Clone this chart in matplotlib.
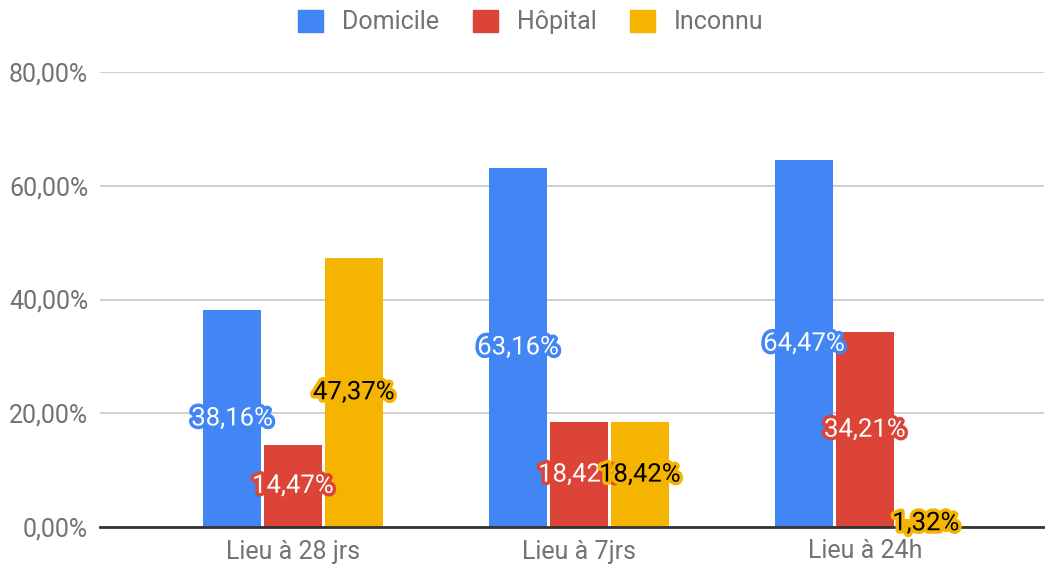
import matplotlib.pyplot as plt
import matplotlib.patheffects as pe
from matplotlib.patches import Patch
import numpy as np

plt.rcParams['font.family'] = ['Roboto', 'DejaVu Sans']

categories = ['Lieu à 28 jrs', 'Lieu à 7jrs', 'Lieu à 24h']
series = ['Domicile', 'Hôpital', 'Inconnu']
domicile = [38.16, 63.16, 64.47]
hopital = [14.47, 18.42, 34.21]
inconnu = [47.37, 18.42, 1.32]
yticks = [0, 20, 40, 60, 80]

colors = ['#4285F4', '#DB4437', '#F4B400']
text_colors = ['white', 'white', 'black']

fig = plt.figure(figsize=(10.45, 5.67), dpi=100)
ax = fig.add_axes([100 / 1045, 40 / 567, 944 / 1045, 455 / 567])

x = np.arange(len(categories))
width = 0.203
step = 0.213
for i, vals in enumerate([domicile, hopital, inconnu]):
    pos = x + (i - 1) * step
    ax.bar(pos, vals, width, color=colors[i], zorder=3)
    for p, v in zip(pos, vals):
        lab = f'{v:.2f}%'.replace('.', ',')
        ax.text(p, v / 2, lab, ha='center', va='center', fontsize=18.5,
                color=text_colors[i], zorder=5,
                path_effects=[pe.withStroke(linewidth=5, foreground=colors[i])])

ax.set_xlim(-0.675, 2.626)
ax.set_ylim(0, 80)
ax.set_yticks(yticks)
ax.set_yticklabels([f'{t:.2f}%'.replace('.', ',') for t in yticks])
ax.set_xticks(x)
ax.set_xticklabels(categories)
ax.tick_params(length=0, labelsize=18, labelcolor='#727272')
ax.tick_params(axis='y', pad=8.5)
ax.tick_params(axis='x', pad=9)
ax.grid(axis='y', color='#cccccc', linewidth=1.3, zorder=0)
for s in ['top', 'right', 'left']:
    ax.spines[s].set_visible(False)
ax.spines['bottom'].set_color('#333333')
ax.spines['bottom'].set_linewidth(2)
ax.spines['bottom'].set_zorder(4)

handles = [Patch(color=c) for c in colors]
fig.legend(handles, series, loc='center', bbox_to_anchor=(531 / 1045, 1 - 22 / 567),
           ncol=3, frameon=False, fontsize=18, labelcolor='#727272',
           handlelength=1.0, handleheight=1.0, columnspacing=1.35, handletextpad=0.75)

fig.savefig('out.png', dpi=100)
